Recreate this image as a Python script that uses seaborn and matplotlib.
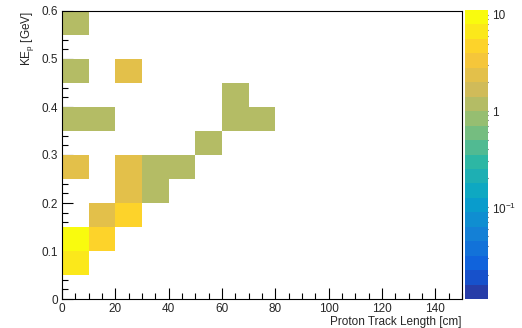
import numpy as np
import pandas as pd
import matplotlib
matplotlib.use("Agg")
import matplotlib.pyplot as plt
import seaborn as sns
from matplotlib.colors import LogNorm, ListedColormap, LinearSegmentedColormap
from matplotlib.ticker import (MultipleLocator, FixedLocator, FixedFormatter, LogLocator,
                               NullFormatter, FuncFormatter)

# ---- data (bin centres and contents) ----
track_length = [5, 5, 25, 65, 5, 15, 65, 75, 55, 5, 25, 35, 45, 25, 35, 15, 25, 5, 15, 5]
ke_proton = [0.575, 0.475, 0.475, 0.425, 0.375, 0.375, 0.375, 0.375, 0.325,
             0.275, 0.275, 0.275, 0.275, 0.225, 0.225, 0.175, 0.175, 0.125, 0.125, 0.075]
counts = [1, 1, 2, 1, 1, 1, 1, 1, 1, 2, 2, 1, 1, 2, 1, 2, 5, 10.7, 5, 7]
x_edges = np.arange(0, 151, 10)
y_edges = np.linspace(0, 0.6, 13)
z_max = 11.2
z_min = z_max * 1e-3
cb_ticks = [0.1, 1, 10]
cb_labels = ["$10^{-1}$", "1", "10"]

df = pd.DataFrame({"x": track_length, "y": ke_proton, "w": counts})

sns.set_style("white")
plt.rcParams["font.family"] = ["Liberation Sans", "DejaVu Sans"]
plt.rcParams["mathtext.fontset"] = "custom"
plt.rcParams["mathtext.rm"] = "Liberation Sans"
plt.rcParams["mathtext.it"] = "Liberation Sans:italic"

# ROOT kBird palette, 20 contour levels
stops = [0, 0.125, 0.25, 0.375, 0.5, 0.625, 0.75, 0.875, 1]
red = [0.2082, 0.0592, 0.0780, 0.0232, 0.1802, 0.5301, 0.8186, 0.9956, 0.9764]
green = [0.1664, 0.3599, 0.5041, 0.6419, 0.7178, 0.7492, 0.7328, 0.7862, 0.9832]
blue = [0.5293, 0.8684, 0.8385, 0.7914, 0.6425, 0.4662, 0.3499, 0.1968, 0.0539]
bird = LinearSegmentedColormap.from_list(
    "bird", [(s, (r, g, b)) for s, r, g, b in zip(stops, red, green, blue)])
nlev = 20
cmap = ListedColormap([bird(min((i + 0.99) / nlev, 1.0)) for i in range(nlev)])

W, H = 522, 328
fig = plt.figure(figsize=(W / 100, H / 100), dpi=100)
ax = fig.add_axes([62 / W, 1 - 299 / H, 400 / W, 288 / H])

sns.histplot(data=df, x="x", y="y", weights="w", bins=[x_edges, y_edges],
             cmap=cmap, ax=ax)
mesh = ax.collections[0]
mesh.set_norm(LogNorm(vmin=z_min, vmax=z_max))
mesh.set_cmap(cmap)

ax.set_xlim(0, 150)
ax.set_ylim(0, 0.6)
ax.xaxis.set_major_locator(MultipleLocator(20))
ax.xaxis.set_minor_locator(MultipleLocator(5))
ax.yaxis.set_major_locator(MultipleLocator(0.1))
ax.yaxis.set_minor_locator(MultipleLocator(0.02))
ax.yaxis.set_major_formatter(FuncFormatter(lambda v, p: "0" if abs(v) < 1e-9 else f"{v:.1f}"))
ax.tick_params(which="both", direction="in", color="black", labelsize=8.5,
               bottom=True, left=True, top=False, right=False)
ax.tick_params(which="major", length=8, width=0.8, pad=3)
ax.tick_params(which="minor", length=4, width=0.8)
for s in ax.spines.values():
    s.set_color("black")
    s.set_linewidth(0.8)
ax.set_xlabel("Proton Track Length [cm]", loc="right", fontsize=8.5)
ax.xaxis.set_label_coords(1.0, -0.06)
ax.set_ylabel("KE$_{\\mathrm{p}}$ [GeV]", loc="top", fontsize=8.5)
ax.yaxis.set_label_coords(-0.066, 1.0)

cax = fig.add_axes([465 / W, 1 - 299 / H, 23 / W, 289 / H])
cb = fig.colorbar(mesh, cax=cax)
cb.outline.set_visible(False)
cax.yaxis.set_major_locator(FixedLocator(cb_ticks))
cax.yaxis.set_major_formatter(FixedFormatter(cb_labels))
cax.yaxis.set_minor_locator(LogLocator(base=10, subs=np.arange(2, 10)))
cax.yaxis.set_minor_formatter(NullFormatter())
cax.tick_params(which="both", direction="in", right=True, left=False,
                labelsize=8.5, color="#333333")
cax.tick_params(which="major", length=12, width=0.8, pad=3)
cax.tick_params(which="minor", length=6, width=0.8)

fig.savefig("out.png", dpi=100)
